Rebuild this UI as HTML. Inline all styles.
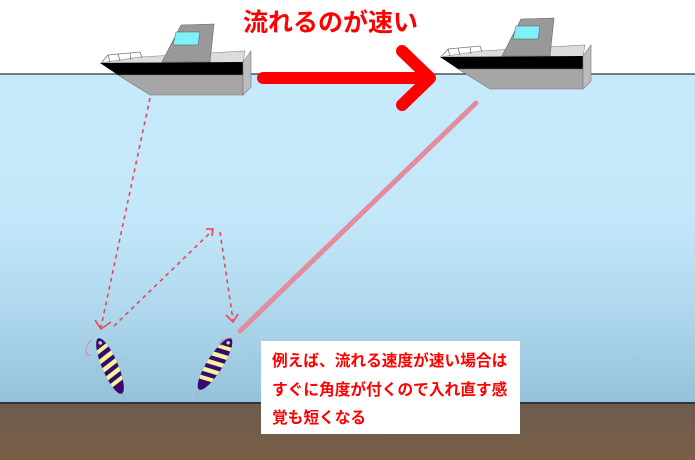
<!DOCTYPE html>
<html><head><meta charset="utf-8"><style>
html,body{margin:0;padding:0;width:695px;height:460px;overflow:hidden;background:#fff}
svg{display:block}
.t{font-family:"Liberation Sans","Noto Sans CJK JP",sans-serif;font-weight:bold;fill:#f00}
</style></head><body>
<svg width="695" height="460" viewBox="0 0 695 460" xmlns="http://www.w3.org/2000/svg">
<defs>
<linearGradient id="w" x1="0" y1="0" x2="0" y2="1">
<stop offset="0" stop-color="#c6eafc"/><stop offset="0.42" stop-color="#c4e8fa"/>
<stop offset="0.7" stop-color="#b0d9ee"/><stop offset="1" stop-color="#94c2da"/></linearGradient>
<linearGradient id="g" x1="0" y1="0" x2="0" y2="1">
<stop offset="0" stop-color="#6c5c4e"/><stop offset="1" stop-color="#7a5e46"/></linearGradient>
<g id="boat">
<path d="M100,63 L140,57 L245,51 L243,63 Z" fill="#dcdcdc" stroke="#888" stroke-width="0.6"/>
<path d="M162,62 L181,25 L214,24 L210,62 Z" fill="#999" stroke="#666" stroke-width="0.6"/>
<path d="M176,32 L200,32 L198,45 L173,45 Z" fill="#80f0f8" stroke="#555" stroke-width="0.5"/>
<path d="M102,62 L108,55 L140,52 L142,58 M108,55 L110,62 M118,54 L120,61 M130,53 L131,60" fill="none" stroke="#777" stroke-width="0.8"/>
<path d="M100,63 L243,62 L243,75 L118,75 Z" fill="#000"/>
<path d="M118,75 L243,75 L243,95 L150,95 Z" fill="#a6a6a6" stroke="#777" stroke-width="0.6"/>
<path d="M243,62 L251,51 L251,87 L243,95 Z" fill="#bdbdbd" stroke="#777" stroke-width="0.6"/>
</g>
<g id="lure">
<ellipse cx="0" cy="0" rx="8" ry="30" fill="#3c0870"/>
<clipPath id="lc"><ellipse cx="0" cy="0" rx="8" ry="30"/></clipPath>
<g clip-path="url(#lc)" fill="#eef89a">
<rect x="-9" y="-21" width="18" height="4" transform="rotate(-15 0 -19)"/>
<rect x="-9" y="-12" width="18" height="4.5" transform="rotate(-15 0 -10)"/>
<rect x="-9" y="-3" width="18" height="4.5" transform="rotate(-15 0 -1)"/>
<rect x="-9" y="6" width="18" height="4.5" transform="rotate(-15 0 8)"/>
<rect x="-9" y="15" width="18" height="4" transform="rotate(-15 0 17)"/>
</g>
<circle cx="0" cy="-25" r="2" fill="#ccc" stroke="#333" stroke-width="0.5"/>
<path d="M0,30 L2,40" stroke="#aaa" stroke-width="1"/>
</g>
</defs>
<rect x="0" y="74" width="695" height="329" fill="url(#w)"/>
<line x1="0" y1="74" x2="695" y2="74" stroke="#333" stroke-width="1.2"/>
<rect x="0" y="403" width="695" height="57" fill="url(#g)"/>
<rect x="0" y="402" width="695" height="2" fill="#2e3838"/>
<use href="#boat"/>
<use href="#boat" transform="translate(340,-6)"/>
<text class="t" x="243" y="31" font-size="25">流れるのが速い</text>
<line x1="263" y1="78" x2="428" y2="78" stroke="#f00" stroke-width="12" stroke-linecap="round"/>
<path d="M402,51 L430,78 L402,105" fill="none" stroke="#f00" stroke-width="12" stroke-linecap="round" stroke-linejoin="round"/>
<line x1="476" y1="103" x2="240" y2="331" stroke="#e48b9c" stroke-width="5" stroke-linecap="round"/>
<g stroke="#ee4455" stroke-width="1.6" fill="none">
<path d="M150,98 L101,327" stroke-dasharray="4,4"/>
<path d="M95,320 L101,329 L111,322"/>
<path d="M114,326 L213,230" stroke-dasharray="4,4"/>
<path d="M206,229 L213,229 L212,236"/>
<path d="M220,232 L233,320" stroke-dasharray="4,4"/>
<path d="M226,315 L233,322 L238,314"/>
</g>
<g transform="translate(110,366) rotate(-23)"><use href="#lure"/></g>
<g transform="translate(215,364) rotate(32)"><use href="#lure"/></g>
<path d="M92,340 C84,345 84,358 91,355" fill="none" stroke="#c8a" stroke-width="1"/>
<path d="M232,338 C220,338 217,346 222,345" fill="none" stroke="#c8a" stroke-width="1"/>
<rect x="261" y="341" width="259" height="93" fill="#fff"/>
<text class="t" font-size="15.7" x="272" y="366">例えば、流れる速度が速い場合は</text>
<text class="t" font-size="15.7" x="272" y="395">すぐに角度が付くので入れ直す感</text>
<text class="t" font-size="15.7" x="272" y="423">覚も短くなる</text>
</svg>
</body></html>
